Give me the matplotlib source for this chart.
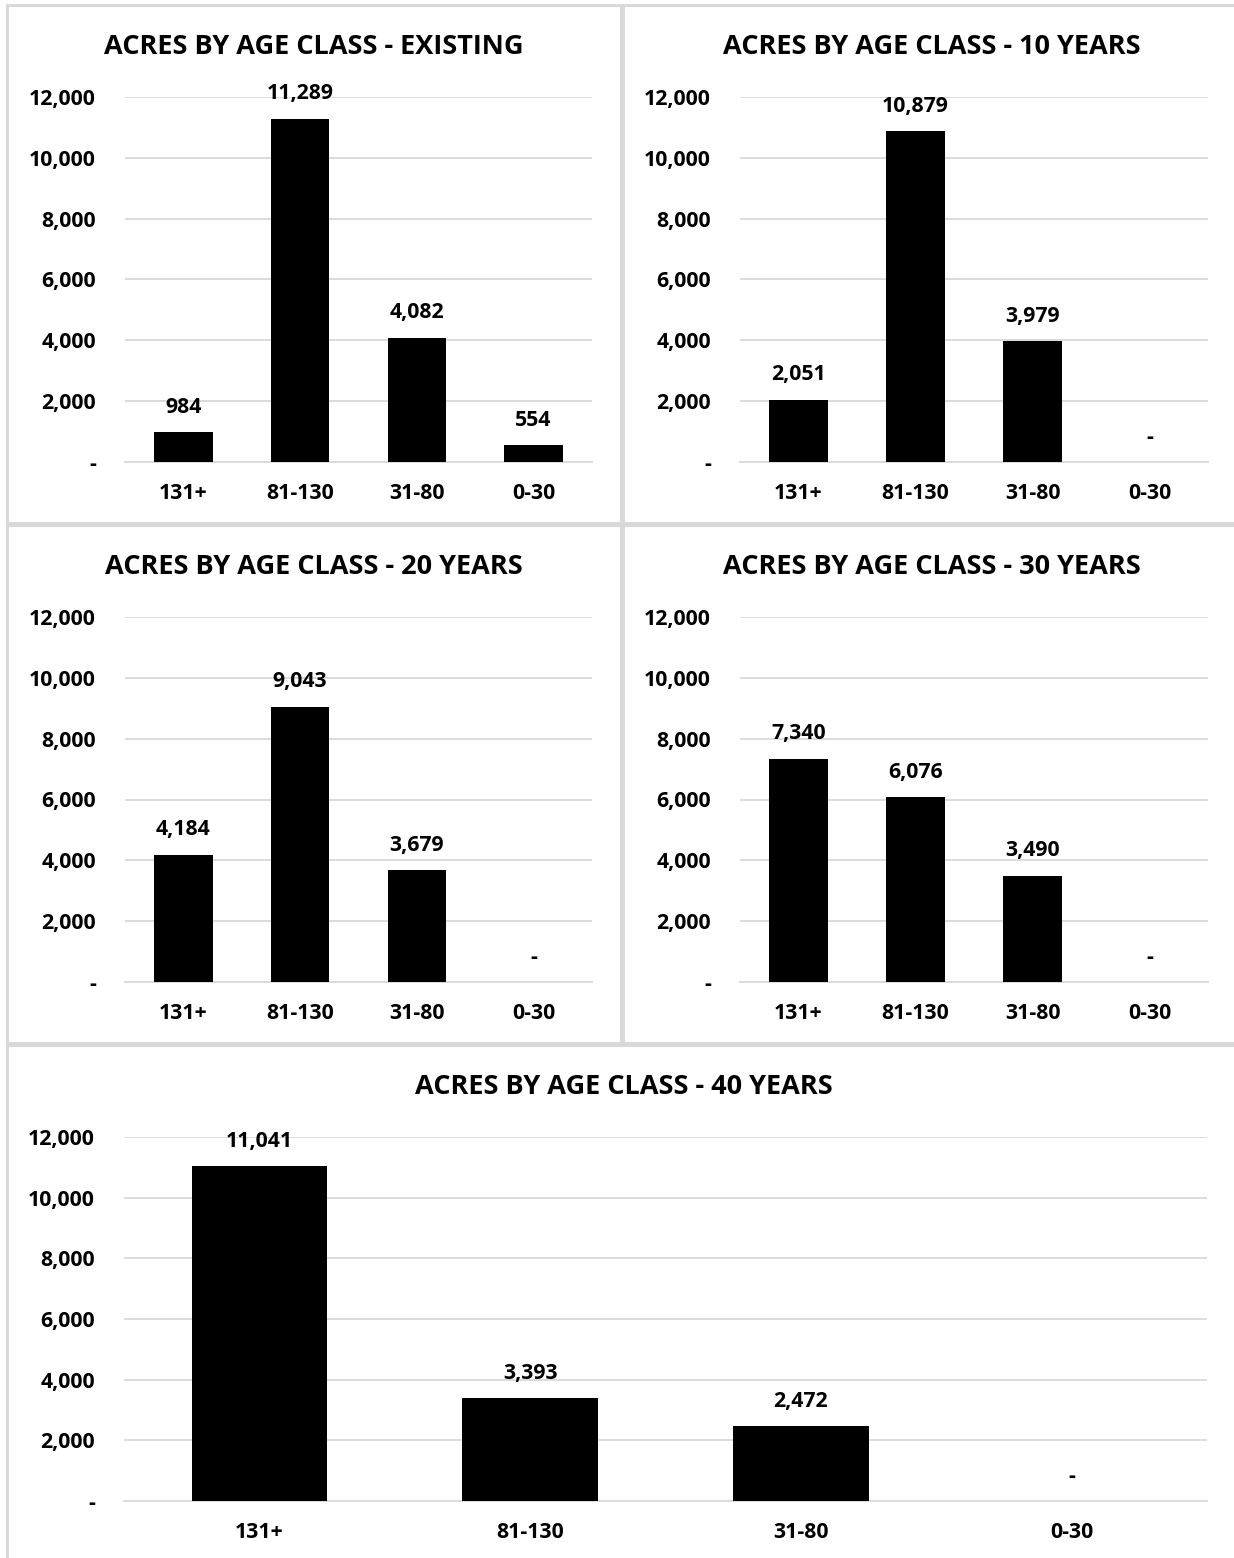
import matplotlib.pyplot as plt
from matplotlib.patches import Rectangle
from matplotlib.ticker import FuncFormatter

plt.rcParams['font.family'] = ['Open Sans', 'DejaVu Sans']
plt.rcParams['font.weight'] = 'bold'

age_classes = ["131+", "81-130", "31-80", "0-30"]
existing = [984, 11289, 4082, 554]
years_10 = [2051, 10879, 3979, 0]
years_20 = [4184, 9043, 3679, 0]
years_30 = [7340, 6076, 3490, 0]
years_40 = [11041, 3393, 2472, 0]
titles = ["ACRES BY AGE CLASS - EXISTING", "ACRES BY AGE CLASS - 10 YEARS",
          "ACRES BY AGE CLASS - 20 YEARS", "ACRES BY AGE CLASS - 30 YEARS",
          "ACRES BY AGE CLASS - 40 YEARS"]
y_ticks = [0, 2000, 4000, 6000, 8000, 10000, 12000]

W, H = 1234, 1558
fig = plt.figure(figsize=(W / 100, H / 100), dpi=100)


def px_rect(x0, y0, x1, y1):
    # pixel box (top-left origin) -> figure fraction [l, b, w, h]
    return [x0 / W, 1 - y1 / H, (x1 - x0) / W, (y1 - y0) / H]


def border(x0, y0, x1, y1, color='#d9d9d9'):
    l, b, w, h = px_rect(x0, y0, x1, y1)
    fig.patches.append(Rectangle((l, b), w, h, transform=fig.transFigure,
                                 fill=False, edgecolor=color, linewidth=2.2))


def fmt(v, pos=None):
    return "-" if v == 0 else f"{int(v):,}"


def draw_panel(box, axbox, title, values, title_y):
    border(*box)
    ax = fig.add_axes(px_rect(*axbox))
    x = range(len(age_classes))
    ax.bar(x, values, width=0.5, color='black', zorder=3)
    ax.set_xlim(-0.5, len(age_classes) - 0.5)
    ax.set_ylim(0, 12000)
    ax.set_yticks(y_ticks)
    ax.yaxis.set_major_formatter(FuncFormatter(fmt))
    ax.set_xticks(list(x))
    ax.set_xticklabels(age_classes)
    ax.grid(axis='y', color='#d9d9d9', linewidth=1.3, zorder=0)
    for s in ax.spines.values():
        s.set_visible(False)
    ax.spines['bottom'].set_visible(True)
    ax.spines['bottom'].set_color('#d9d9d9')
    ax.spines['bottom'].set_linewidth(1.3)
    ax.tick_params(axis='both', length=0, labelsize=15.3)
    ax.tick_params(axis='y', pad=21)
    ax.tick_params(axis='x', pad=15)
    for xi, v in zip(x, values):
        ax.annotate(fmt(v), (xi, v), xytext=(0, 14), textcoords='offset points',
                    ha='center', va='baseline', fontsize=15.3, fontweight='bold')
    cx = (box[0] + box[2]) / 2
    fig.text(cx / W, 1 - title_y / H, title, ha='center', va='center',
             fontsize=19.5, fontweight='bold')


draw_panel((7, 5, 621, 523), (125, 97, 592, 462), titles[0], existing, 47)
draw_panel((623, 5, 1240, 523), (740, 97, 1208, 462), titles[1], years_10, 47)
draw_panel((7, 525, 621, 1043), (125, 617, 592, 982), titles[2], years_20, 567)
draw_panel((623, 525, 1240, 1043), (740, 617, 1208, 982), titles[3], years_30, 567)
draw_panel((7, 1045, 1240, 1560), (124, 1137, 1207, 1501), titles[4], years_40, 1087)

fig.savefig("out.png", dpi=100)
